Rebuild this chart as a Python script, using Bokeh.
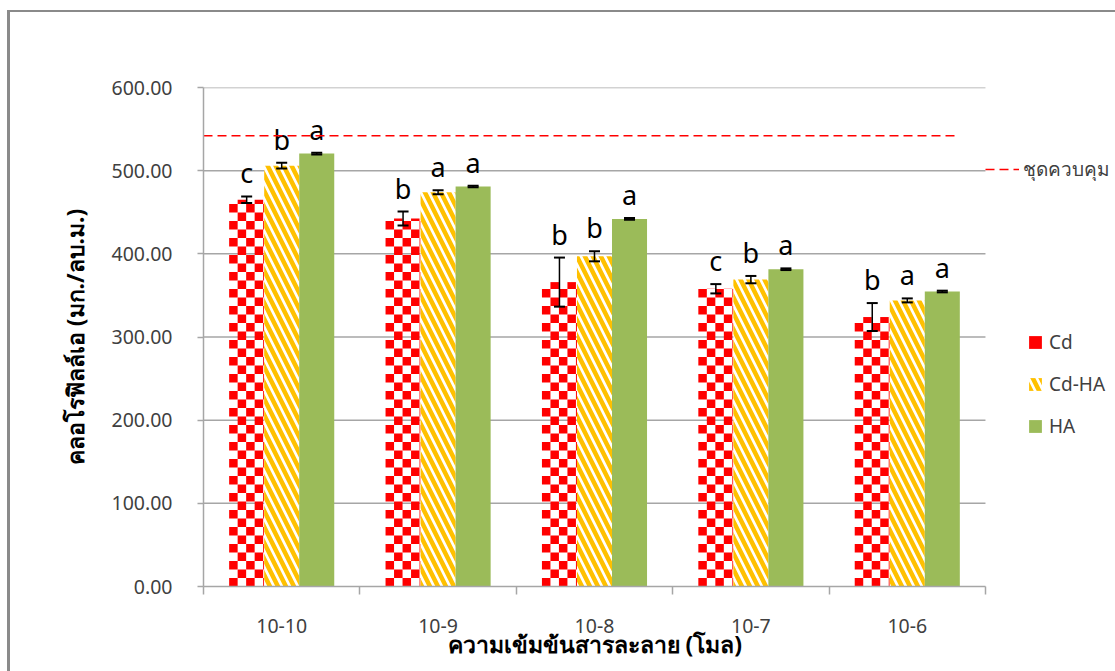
import math
from bokeh.plotting import figure
from bokeh.models import (ColumnDataSource, Whisker, TeeHead, FixedTicker, Legend, LegendItem,
                          NumeralTickFormatter, Range1d, Title)
from bokeh.core.properties import value
from bokeh.embed import file_html
from bokeh.resources import INLINE

# Chlorophyll-a by solution concentration
concentrations = ["10-10", "10-9", "10-8", "10-7", "10-6"]
series_names = ["Cd", "Cd-HA", "HA"]

cd_mean = [465, 442.5, 366, 358, 324]
cd_err = [4, 8.4, 29.5, 5.6, 16.8]
cd_letters = ["c", "b", "b", "c", "b"]

cdha_mean = [506, 474, 397, 369, 344]
cdha_err = [3.4, 2.4, 6, 4.4, 2.4]
cdha_letters = ["b", "a", "b", "b", "a"]

ha_mean = [520.5, 481, 442, 381.5, 354.7]
ha_err = [1, 1, 1, 1, 1]
ha_letters = ["a", "a", "a", "a", "a"]

control_value = 542
y_ticks = [0, 100, 200, 300, 400, 500, 600]

FONT = "Noto Sans"
GRID = "#a6a6a6"
BAR_W = 0.224
N = len(concentrations)

# layout of the plotting frame (pixels)
FIG_W, FIG_H = 1108, 661
B_LEFT, B_RIGHT, B_TOP, B_BOTTOM = 193, 4, 75, 87
X_END = 5.825        # frame runs on to the right so the legends can sit beside the bars
Y_END = 600
PX_X = (FIG_W - B_LEFT - B_RIGHT) / X_END
PX_Y = (FIG_H - B_TOP - B_BOTTOM) / Y_END
CELL = 8.5           # checker square size in pixels

p = figure(width=FIG_W, height=FIG_H, output_backend="svg", toolbar_location=None,
           x_range=Range1d(0, X_END), y_range=Range1d(0, Y_END),
           min_border_left=B_LEFT, min_border_right=B_RIGHT,
           min_border_top=B_TOP, min_border_bottom=B_BOTTOM)
p.styles = {"border-left": "3px solid #8a8a8a", "border-top": "2px solid #8a8a8a",
            "margin-left": "7px", "margin-top": "10px"}
p.outline_line_color = None
p.background_fill_color = "white"
p.xgrid.grid_line_color = None
p.ygrid.grid_line_color = None

# horizontal grid across the categories only
grid_y = y_ticks[1:]
p.segment(x0=[0] * len(grid_y), x1=[N] * len(grid_y), y0=grid_y, y1=grid_y,
          line_color=GRID, line_width=1.5)

# --- Cd bars: red / white checkerboard built from small quads
cw, ch = CELL / PX_X, CELL / PX_Y
q_left, q_right, q_bottom, q_top = [], [], [], []
for i, top in enumerate(cd_mean):
    xl = i + 0.5 - BAR_W - BAR_W / 2
    xr = xl + BAR_W
    ncol = math.ceil(BAR_W / cw - 1e-9)
    nrow = math.ceil(top / ch - 1e-9)
    for r in range(nrow):
        for c in range(ncol):
            if (r + c) % 2 == 0:
                q_left.append(xl + c * cw)
                q_right.append(min(xl + (c + 1) * cw, xr))
                q_bottom.append(r * ch)
                q_top.append(min((r + 1) * ch, top))
cd_cells = p.quad(left=q_left, right=q_right, bottom=q_bottom, top=q_top,
                  fill_color="#ff0000", line_color=None)

series = [
    (cd_mean, cd_err, cd_letters, -BAR_W, dict(fill_color=None)),
    (cdha_mean, cdha_err, cdha_letters, 0.0,
     dict(fill_color="white", hatch_pattern="left_diagonal_line", hatch_color="#ffc000",
          hatch_weight=4.5, hatch_scale=16)),
    (ha_mean, ha_err, ha_letters, BAR_W, dict(fill_color="#9bbb59")),
]

bar_renderers = []
for mean, err, letters, offset, style in series:
    xs = [i + 0.5 + offset for i in range(N)]
    src = ColumnDataSource(dict(
        x=xs, top=mean,
        upper=[m + e for m, e in zip(mean, err)],
        lower=[m - e for m, e in zip(mean, err)],
        letter=letters,
    ))
    r = p.vbar(x="x", top="top", width=BAR_W, source=src, line_color=None, **style)
    bar_renderers.append(r)
    w = Whisker(base="x", upper="upper", lower="lower", source=src, level="overlay",
                line_color="black", line_width=1.5,
                upper_head=TeeHead(size=11, line_color="black", line_width=2),
                lower_head=TeeHead(size=11, line_color="black", line_width=2))
    p.add_layout(w)
    p.text(x="x", y="upper", text="letter", source=src, text_align="center",
           text_baseline="bottom", y_offset=-5, text_font=value(FONT),
           text_font_size="27px", text_color="black")

# control reference
ctrl = p.line(x=[0, 4.81], y=[control_value, control_value], line_color="#ff0000",
              line_width=1.5, line_dash="9 5")

# axes
p.yaxis.ticker = FixedTicker(ticks=y_ticks)
p.yaxis.formatter = NumeralTickFormatter(format="0.00")
p.yaxis.axis_line_color = GRID
p.yaxis.axis_line_width = 1.5
p.yaxis.major_tick_line_color = GRID
p.yaxis.major_tick_line_width = 1.5
p.yaxis.major_tick_in = 0
p.yaxis.major_tick_out = 6
p.yaxis.minor_tick_line_color = None
p.yaxis.major_label_text_font = FONT
p.yaxis.major_label_text_font_size = "19.5px"
p.yaxis.major_label_text_color = "#404040"
p.yaxis.major_label_standoff = 25
p.yaxis.axis_label = "คลอโรฟิลล์เอ (มก./ลบ.ม.)"
p.yaxis.axis_label_text_font = FONT
p.yaxis.axis_label_text_font_size = "23px"
p.yaxis.axis_label_text_font_style = "bold"
p.yaxis.axis_label_text_color = "black"
p.yaxis.axis_label_standoff = 18

centers = [i + 0.5 for i in range(N)]
p.xaxis.bounds = (0, N)
p.xaxis.ticker = FixedTicker(ticks=centers, minor_ticks=list(range(N + 1)))
p.xaxis.major_label_overrides = {c: n for c, n in zip(centers, concentrations)}
p.xaxis.axis_line_color = GRID
p.xaxis.axis_line_width = 1.5
p.xaxis.major_tick_line_color = None
p.xaxis.minor_tick_line_color = GRID
p.xaxis.minor_tick_line_width = 1.5
p.xaxis.minor_tick_in = 0
p.xaxis.minor_tick_out = 8
p.xaxis.major_label_text_font = FONT
p.xaxis.major_label_text_font_size = "19.5px"
p.xaxis.major_label_text_color = "#404040"
p.xaxis.major_label_standoff = 24

# x-axis title, centred under the categories rather than the whole frame
x_title = Title(text="ความเข้มข้นสารละลาย (โมล)", align="left", offset=244, standoff=-19,
                text_font=FONT, text_font_size="23px", text_font_style="bold",
                text_color="black")
p.add_layout(x_title, "below")

legend_style = dict(padding=0, margin=0, border_line_color=None, background_fill_alpha=0,
                    label_text_font=FONT, label_text_color="#404040")

ctrl_legend = Legend(items=[LegendItem(label="ชุดควบคุม", renderers=[ctrl])],
                     location=(782, 402), glyph_width=34, label_standoff=4,
                     label_text_font_size="19px", **legend_style)
p.add_layout(ctrl_legend)

bar_legend = Legend(items=[LegendItem(label=series_names[0], renderers=[cd_cells]),
                           LegendItem(label=series_names[1], renderers=[bar_renderers[1]]),
                           LegendItem(label=series_names[2], renderers=[bar_renderers[2]])],
                    location=(824, 147), glyph_width=16, glyph_height=16, spacing=16,
                    label_standoff=6, label_text_font_size="19px", **legend_style)
p.add_layout(bar_legend)

open("out.html", "w").write(file_html(p, INLINE))
